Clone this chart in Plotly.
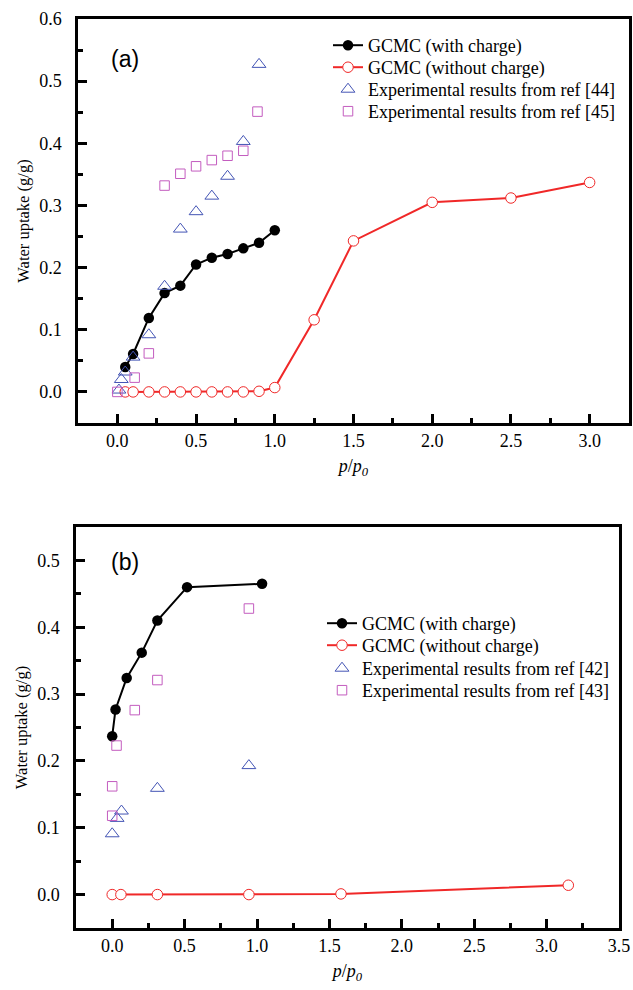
import plotly.graph_objects as go

# ---------------- Panel (a) data ----------------
a_charge_x = [0.05, 0.1, 0.2, 0.3, 0.4, 0.5, 0.6, 0.7, 0.8, 0.9, 1.0]
a_charge_y = [0.040, 0.061, 0.119, 0.159, 0.171, 0.205, 0.216, 0.222, 0.231, 0.240, 0.260]

a_nocharge_x = [0.05, 0.1, 0.2, 0.3, 0.4, 0.5, 0.6, 0.7, 0.8, 0.9, 1.0, 1.25, 1.5, 2.0, 2.5, 3.0]
a_nocharge_y = [0.0, 0.0, 0.0, 0.0, 0.0, 0.0, 0.0, 0.0, 0.0, 0.001, 0.007, 0.116, 0.243, 0.305, 0.312, 0.337]

a_ref44_x = [0.01, 0.025, 0.05, 0.1, 0.2, 0.3, 0.4, 0.5, 0.6, 0.7, 0.8, 0.9]
a_ref44_y = [0.003, 0.020, 0.032, 0.056, 0.092, 0.170, 0.262, 0.290, 0.315, 0.347, 0.403, 0.527]

a_ref45_x = [0.0, 0.11, 0.2, 0.3, 0.4, 0.5, 0.6, 0.7, 0.8, 0.89]
a_ref45_y = [0.0, 0.023, 0.062, 0.332, 0.351, 0.363, 0.373, 0.380, 0.388, 0.451]

# ---------------- Panel (b) data ----------------
b_charge_x = [0.0, 0.023, 0.1, 0.204, 0.312, 0.517, 1.035]
b_charge_y = [0.237, 0.277, 0.324, 0.362, 0.410, 0.460, 0.465]

b_nocharge_x = [0.0, 0.06, 0.312, 0.944, 1.58, 3.15]
b_nocharge_y = [0.0, 0.0, 0.0, 0.0, 0.001, 0.014]

b_ref42_x = [0.0, 0.034, 0.064, 0.312, 0.944]
b_ref42_y = [0.091, 0.114, 0.125, 0.159, 0.193]

b_ref43_x = [0.0, 0.0, 0.03, 0.156, 0.312, 0.944]
b_ref43_y = [0.118, 0.162, 0.223, 0.276, 0.321, 0.428]

# ---------------- labels ----------------
legend_a = ["GCMC (with charge)", "GCMC (without charge)",
            "Experimental results from ref [44]", "Experimental results from ref [45]"]
legend_b = ["GCMC (with charge)", "GCMC (without charge)",
            "Experimental results from ref [42]", "Experimental results from ref [43]"]
y_title = "Water uptake (g/g)"
x_title = "<i>p</i>/<i>p</i><sub><i>0</i></sub>"
panel_labels = ["(a)", "(b)"]

BLACK = "#000000"
RED = "#f02828"
BLUE = "#4455b5"
PINK = "#c35cbf"
SERIF = "Liberation Serif, Times New Roman, serif"

W, H = 633, 990

def px_x(x):
    return x / W

def px_y(y):
    return 1 - y / H

fig = go.Figure()

def add_panel(xa, ya, legs, names, cx, cy, nx, ny, e1x, e1y, e2x, e2y):
    fig.add_trace(go.Scatter(x=cx, y=cy, mode="lines+markers", name=names[0],
                             xaxis=xa, yaxis=ya, legend=legs[0],
                             line=dict(color=BLACK, width=2),
                             marker=dict(symbol="circle", size=10.5, color=BLACK)))
    fig.add_trace(go.Scatter(x=nx, y=ny, mode="lines+markers", name=names[1],
                             xaxis=xa, yaxis=ya, legend=legs[1],
                             line=dict(color=RED, width=2),
                             marker=dict(symbol="circle", size=10.5, color="white",
                                         line=dict(color=RED, width=1))))
    fig.add_trace(go.Scatter(x=e1x, y=e1y, mode="markers", name=names[2],
                             xaxis=xa, yaxis=ya, legend=legs[2],
                             marker=dict(symbol="triangle-up-open", size=12, color=BLUE,
                                         line=dict(width=1))))
    fig.add_trace(go.Scatter(x=e2x, y=e2y, mode="markers", name=names[3],
                             xaxis=xa, yaxis=ya, legend=legs[3],
                             marker=dict(symbol="square-open", size=9.5, color=PINK,
                                         line=dict(width=1))))

add_panel("x", "y", ["legend", "legend2", "legend3", "legend4"], legend_a,
          a_charge_x, a_charge_y, a_nocharge_x, a_nocharge_y,
          a_ref44_x, a_ref44_y, a_ref45_x, a_ref45_y)
add_panel("x2", "y2", ["legend5", "legend6", "legend7", "legend8"], legend_b,
          b_charge_x, b_charge_y, b_nocharge_x, b_nocharge_y,
          b_ref42_x, b_ref42_y, b_ref43_x, b_ref43_y)

def axis_common():
    return dict(showline=True, linewidth=2.5, linecolor="black", mirror=True,
                ticks="inside", ticklen=9, tickwidth=2.5, tickcolor="black",
                showgrid=False, zeroline=False, automargin=False,
                tickfont=dict(family=SERIF, size=18, color="black"))

minor_x = dict(ticks="inside", ticklen=5, tickwidth=2.5, tickcolor="black", dtick=0.25)
minor_y = dict(ticks="inside", ticklen=5, tickwidth=2.5, tickcolor="black", dtick=0.05)

xt = dict(text=x_title, standoff=10, font=dict(family=SERIF, size=18, color="black"))
yt = dict(text=y_title, standoff=6, font=dict(family=SERIF, size=16.5, color="black"))

xa = axis_common()
xa.update(domain=[px_x(78), px_x(629)], range=[-0.25, 3.25], dtick=0.5, tick0=0,
          tickformat=".1f", anchor="y", minor=minor_x, title=xt, ticklabelstandoff=0)
ya = axis_common()
ya.update(domain=[px_y(423), px_y(19)], range=[-0.05, 0.6], dtick=0.1, tick0=0,
          tickformat=".1f", anchor="x", minor=minor_y, title=yt, ticklabelstandoff=10)
xb = axis_common()
xb.update(domain=[px_x(76), px_x(619)], range=[-0.25, 3.5], dtick=0.5, tick0=0,
          tickformat=".1f", anchor="y2", minor=minor_x, title=xt, ticklabelstandoff=0)
yb = axis_common()
yb.update(domain=[px_y(928), px_y(527)], range=[-0.05, 0.55], dtick=0.1, tick0=0,
          tickformat=".1f", anchor="x2", minor=minor_y, title=yt, ticklabelstandoff=10)

def leg(text_left, row_center):
    return dict(font=dict(family=SERIF, size=18, color="black"),
                bgcolor="rgba(0,0,0,0)", borderwidth=0, visible=True,
                xanchor="left", yanchor="top",
                x=px_x(text_left - 40), y=px_y(row_center - 19))

rows_a = [46, 68, 90, 112]
rows_b = [624, 646, 669, 691]

legends = {}
names = ["legend", "legend2", "legend3", "legend4", "legend5", "legend6", "legend7", "legend8"]
for i, r in enumerate(rows_a):
    legends[names[i]] = leg(368, r)
for i, r in enumerate(rows_b):
    legends[names[4 + i]] = leg(362, r)

fig.update_layout(
    width=W, height=H,
    margin=dict(l=0, r=0, t=0, b=0, autoexpand=False),
    paper_bgcolor="white", plot_bgcolor="white",
    showlegend=True,
    font=dict(family=SERIF, size=18, color="black"),
    xaxis=xa, yaxis=ya, xaxis2=xb, yaxis2=yb,
    annotations=[
        dict(text=panel_labels[0], x=px_x(125), y=px_y(59), xref="paper", yref="paper",
             xanchor="center", yanchor="middle", showarrow=False,
             font=dict(family="Liberation Sans", size=23, color="black")),
        dict(text=panel_labels[1], x=px_x(125), y=px_y(562), xref="paper", yref="paper",
             xanchor="center", yanchor="middle", showarrow=False,
             font=dict(family="Liberation Sans", size=23, color="black")),
    ],
    **legends,
)

# Remove the browser's default 8px body margin so the figure fills the window exactly.
fig.write_html("out.html",
               config={"displayModeBar": False},
               post_script="document.body.style.margin='0px';document.body.style.overflow='hidden';")
